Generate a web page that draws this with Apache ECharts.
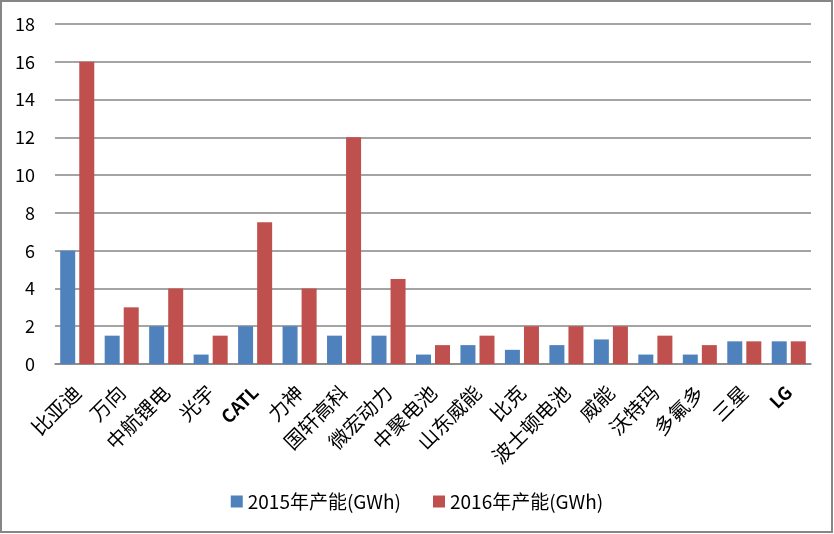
<!DOCTYPE html>
<html>
<head>
<meta charset="utf-8">
<script src="https://cdn.jsdelivr.net/npm/echarts@6/dist/echarts.min.js"></script>
<style>
html,body{margin:0;padding:0;background:#fff;}
#main{width:834px;height:534px;}
</style>
</head>
<body>
<div id="main"></div>
<script>
const categories = ['比亚迪','万向','中航锂电','光宇','CATL','力神','国轩高科','微宏动力','中聚电池','山东威能','比克','波士顿电池','威能','沃特玛','多氟多','三星','LG'];
const seriesNames = ['2015年产能(GWh)','2016年产能(GWh)'];
const values2015 = [6, 1.5, 2, 0.5, 2, 2, 1.5, 1.5, 0.5, 1, 0.75, 1, 1.3, 0.5, 0.5, 1.2, 1.2];
const values2016 = [16, 3, 4, 1.5, 7.5, 4, 12, 4.5, 1, 1.5, 2, 2, 2, 1.5, 1, 1.2, 1.2];
const yTicks = [0, 2, 4, 6, 8, 10, 12, 14, 16, 18];

const font = '"Noto Sans CJK SC", "Noto Sans", sans-serif';
const chart = echarts.init(document.getElementById('main'), null, {renderer:'canvas'});
chart.setOption({
  animation:false,
  backgroundColor:'#fff',
  graphic:[{type:'rect',shape:{x:1,y:1,width:831,height:531},style:{fill:'none',stroke:'#868686',lineWidth:2},silent:true}],
  grid:{left:55,right:23,top:24,bottom:170,containLabel:false},
  legend:{
    data:seriesNames, bottom:18, left:'center', itemWidth:12, itemHeight:12, itemGap:32,
    icon:'rect',
    textStyle:{fontFamily:font,fontSize:19,color:'#000'}
  },
  xAxis:{
    type:'category', data:categories,
    axisLine:{lineStyle:{color:'#868686',width:1.5}},
    axisTick:{show:false},
    axisLabel:{interval:0,rotate:45,margin:25,fontFamily:font,fontSize:20,color:'#000',
      formatter:function(v){return (v==='CATL'||v==='LG')?'{b|'+v+'}':v;},
      rich:{b:{fontWeight:'bold',fontFamily:font,fontSize:18,color:'#000'}}
    }
  },
  yAxis:{
    type:'value', min:yTicks[0], max:yTicks[yTicks.length-1], interval:2,
    axisLine:{show:false}, axisTick:{show:false},
    splitLine:{lineStyle:{color:'#868686',width:1.5}},
    axisLabel:{margin:20,fontFamily:font,fontSize:18,color:'#000'}
  },
  series:[
    {name:seriesNames[0],type:'bar',data:values2015,barWidth:15,barGap:'27%',itemStyle:{color:'#4F81BD'}},
    {name:seriesNames[1],type:'bar',data:values2016,barWidth:15,itemStyle:{color:'#C0504D'}}
  ]
});
</script>
</body>
</html>
